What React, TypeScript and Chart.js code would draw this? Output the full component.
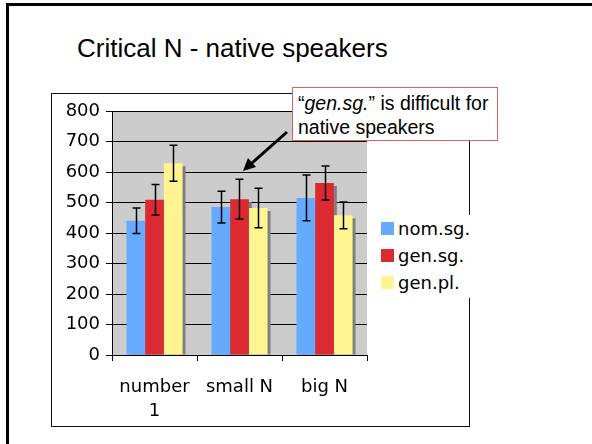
import React, { useEffect, useRef } from "react";
import { Chart, registerables } from "chart.js";

Chart.register(...registerables);

const categories: (string | string[])[] = [["number", "1"], "small N", "big N"];
const seriesNames = ["nom.sg.", "gen.sg.", "gen.pl."];
const nomSg = [440, 485, 515];
const genSg = [509, 511, 564];
const genPl = [629, 482, 458];
const nomSgErr = [42, 52, 75];
const genSgErr = [50, 65, 56];
const genPlErr = [59, 65, 44];
const seriesColors = ["#66AAFF", "#DC2A33", "#FFF48F"];
const yTicks = { min: 0, max: 800, step: 100 };

const values = [nomSg, genSg, genPl];
const errors = [nomSgErr, genSgErr, genPlErr];

const axisFont = { family: "'DejaVu Sans', Verdana, sans-serif", size: 18 };

const plotBg = {
  id: "plotBg",
  beforeDraw(chart: any) {
    const { ctx, chartArea: a } = chart;
    ctx.save();
    ctx.fillStyle = "#CCCCCC";
    ctx.fillRect(a.left, a.top, a.right - a.left, a.bottom - a.top);
    ctx.restore();
  },
};

const barShadow = {
  id: "barShadow",
  beforeDatasetsDraw(chart: any) {
    const { ctx } = chart;
    ctx.save();
    ctx.fillStyle = "#808080";
    chart.data.datasets.forEach((_: any, i: number) => {
      const meta = chart.getDatasetMeta(i);
      meta.data.forEach((el: any) => {
        const p = el.getProps(["x", "y", "base", "width"], true);
        ctx.fillRect(p.x - p.width / 2 + 3, p.y + 3, p.width, p.base - p.y - 3);
      });
    });
    ctx.restore();
  },
};

const errorBars = {
  id: "errorBars",
  afterDatasetsDraw(chart: any) {
    const { ctx } = chart;
    const ys = chart.scales.y;
    ctx.save();
    ctx.strokeStyle = "#000";
    ctx.lineWidth = 1.5;
    chart.data.datasets.forEach((ds: any, i: number) => {
      const meta = chart.getDatasetMeta(i);
      meta.data.forEach((el: any, j: number) => {
        const v = ds.data[j];
        const e = errors[i][j];
        const x = Math.round(el.x) + 0.5;
        const yHi = ys.getPixelForValue(v + e);
        const yLo = ys.getPixelForValue(v - e);
        ctx.beginPath();
        ctx.moveTo(x, yHi);
        ctx.lineTo(x, yLo);
        ctx.moveTo(x - 4, yHi);
        ctx.lineTo(x + 4, yHi);
        ctx.moveTo(x - 4, yLo);
        ctx.lineTo(x + 4, yLo);
        ctx.stroke();
      });
    });
    ctx.restore();
  },
};

function App() {
  const canvasRef = useRef<HTMLCanvasElement | null>(null);

  useEffect(() => {
    if (!canvasRef.current) return;
    const chart = new Chart(canvasRef.current, {
      type: "bar",
      data: {
        labels: categories as any,
        datasets: seriesNames.map((name, i) => ({
          label: name,
          data: values[i],
          backgroundColor: seriesColors[i],
          borderWidth: 0,
          categoryPercentage: 0.66,
          barPercentage: 1.0,
        })),
      },
      options: {
        responsive: false,
        animation: false,
        devicePixelRatio: 1,
        layout: { padding: { left: 66, right: 225, top: 111, bottom: 24 } },
        plugins: {
          legend: { display: false },
          tooltip: { enabled: false },
          title: { display: false },
        },
        scales: {
          x: {
            offset: true,
            grid: {
              offset: true,
              drawOnChartArea: false,
              drawTicks: true,
              tickLength: 6,
              color: "#000",
              lineWidth: 1,
            },
            border: { color: "#000", width: 1 },
            ticks: {
              color: "#000",
              font: { ...axisFont, lineHeight: 1.33 },
              padding: 14,
              maxRotation: 0,
              autoSkip: false,
            },
            afterFit: (s: any) => {
              s.height = 65;
            },
          },
          y: {
            min: yTicks.min,
            max: yTicks.max,
            grid: { color: "#000", lineWidth: 1, drawTicks: true, tickLength: 6 },
            border: { color: "#000", width: 1 },
            ticks: { stepSize: yTicks.step, color: "#000", font: axisFont, padding: 6 },
            afterFit: (s: any) => {
              s.width = 46;
            },
          },
        },
      },
      plugins: [plotBg, barShadow, errorBars],
    });
    return () => chart.destroy();
  }, []);

  const abs: React.CSSProperties = { position: "absolute" };

  return (
    <div style={{ position: "absolute", left: 0, top: 0, width: 592, height: 444, background: "#fff", overflow: "hidden" }}>
      {/* slide border */}
      <div style={{ ...abs, left: 6, top: 3, width: 600, height: 460, borderLeft: "3px solid #000", borderTop: "3px solid #000" }} />
      {/* title */}
      <div
        style={{
          ...abs,
          left: 77,
          top: 33,
          fontFamily: "'Liberation Sans', Arial, sans-serif",
          fontSize: 26,
          lineHeight: "30px",
          color: "#000",
          whiteSpace: "nowrap",
        }}
      >
        Critical N - native speakers
      </div>
      {/* chart frame */}
      <div style={{ ...abs, left: 51, top: 93, width: 417, height: 332, border: "1px solid #111" }} />
      <canvas ref={canvasRef} width={592} height={444} style={{ ...abs, left: 0, top: 0, width: 592, height: 444 }} />
      {/* legend */}
      <div style={{ ...abs, left: 376, top: 215, width: 98, height: 83, background: "#fff" }} />
      {seriesNames.map((name, i) => (
        <div
          key={name}
          style={{
            ...abs,
            left: 381,
            top: 228 + i * 27 - 13.5,
            height: 27,
            display: "flex",
            alignItems: "center",
            fontFamily: "'DejaVu Sans', Verdana, sans-serif",
            fontSize: 18,
            color: "#000",
            whiteSpace: "nowrap",
          }}
        >
          <span style={{ display: "inline-block", width: 13, height: 13, background: seriesColors[i], marginRight: 4 }} />
          <span>{name}</span>
        </div>
      ))}
      {/* annotation */}
      <div
        style={{
          ...abs,
          left: 292,
          top: 87,
          width: 199,
          height: 49,
          padding: "3px 0 0 5px",
          border: "1px solid #E0625C",
          background: "#fff",
          fontFamily: "'Liberation Sans', Arial, sans-serif",
          fontSize: 19.5,
          lineHeight: "24px",
          color: "#000",
          whiteSpace: "nowrap",
        }}
      >
        <div>
          “<i>gen.sg.</i>” is difficult for
        </div>
        <div>native speakers</div>
      </div>
      <svg width={592} height={444} style={{ ...abs, left: 0, top: 0, pointerEvents: "none" }}>
        <line x1={287} y1={132} x2={252} y2={163} stroke="#000" strokeWidth={3} />
        <polygon points="243,171 256,167 248,158" fill="#000" />
      </svg>
    </div>
  );
}

export default App;
